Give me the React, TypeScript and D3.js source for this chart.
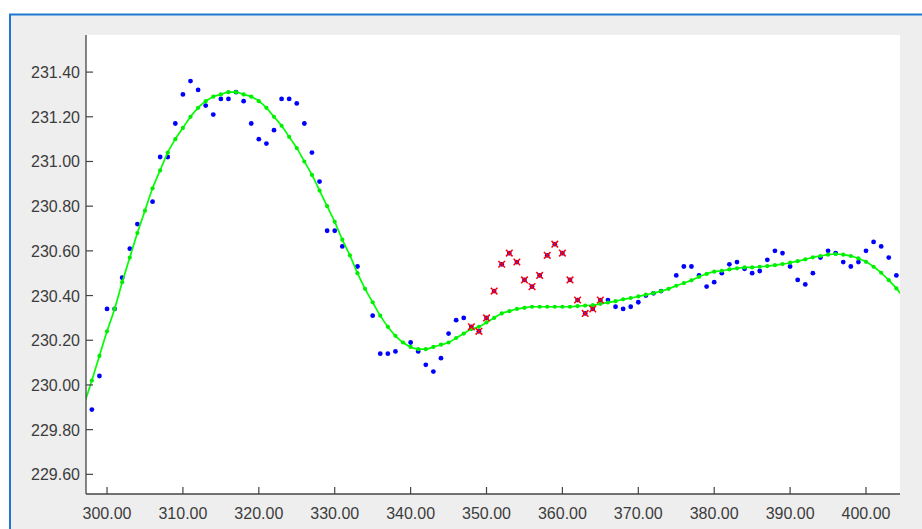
import React from "react";
import * as d3 from "d3";

// Observed samples (blue dots)
const obsX: number[] = [
  298, 299, 300, 301, 302, 303, 304, 306, 307, 308, 309, 310, 311, 312, 313, 314, 315, 316, 317, 318,
  319, 320, 321, 322, 323, 324, 325, 326, 327, 328, 329, 330, 331, 333, 335, 336, 337, 338, 340, 341,
  342, 343, 344, 345, 346, 347, 348, 349, 350, 351, 352, 353, 354, 355, 356, 357, 358, 359, 360, 361,
  362, 363, 364, 365, 366, 367, 368, 369, 370, 371, 372, 373, 375, 376, 377, 378, 379, 380, 381, 382,
  383, 384, 385, 386, 387, 388, 389, 390, 391, 392, 393, 394, 395, 396, 397, 398, 399, 400, 401, 402,
  403, 404,
];
const obsY: number[] = [
  229.89, 230.04, 230.34, 230.34, 230.48, 230.61, 230.72, 230.82, 231.02, 231.02, 231.17, 231.3, 231.36, 231.32, 231.25, 231.21, 231.28, 231.28, 231.31, 231.27,
  231.17, 231.1, 231.08, 231.14, 231.28, 231.28, 231.26, 231.17, 231.04, 230.91, 230.69, 230.69, 230.62, 230.53, 230.31, 230.14, 230.14, 230.15, 230.19, 230.15,
  230.09, 230.06, 230.12, 230.23, 230.29, 230.3, 230.26, 230.24, 230.3, 230.42, 230.54, 230.59, 230.55, 230.47, 230.44, 230.49, 230.58, 230.63, 230.59, 230.47,
  230.38, 230.32, 230.34, 230.38, 230.38, 230.35, 230.34, 230.35, 230.37, 230.4, 230.41, 230.42, 230.49, 230.53, 230.53, 230.49, 230.44, 230.46, 230.5, 230.54,
  230.55, 230.52, 230.5, 230.51, 230.56, 230.6, 230.59, 230.53, 230.47, 230.45, 230.5, 230.57, 230.6, 230.59, 230.55, 230.53, 230.55, 230.6, 230.64, 230.62,
  230.57, 230.49,
];

// Outliers (red crosses)
const outlierX: number[] = [348, 349, 350, 351, 352, 353, 354, 355, 356, 357, 358, 359, 360, 361, 362, 363, 364, 365];
const outlierY: number[] = [
  230.26, 230.24, 230.3, 230.42, 230.54, 230.59, 230.55, 230.47, 230.44, 230.49, 230.58, 230.63, 230.59, 230.47, 230.38, 230.32, 230.34, 230.38,
];

// Fitted curve (green)
const fitX: number[] = d3.range(297, 406);
const fitY: number[] = [
  229.915, 230.02, 230.13, 230.24, 230.34, 230.46, 230.57, 230.68, 230.78, 230.88,
  230.96, 231.04, 231.1, 231.15, 231.2, 231.24, 231.27, 231.29, 231.3, 231.31,
  231.31, 231.3, 231.29, 231.27, 231.24, 231.2, 231.16, 231.11, 231.06, 231.0,
  230.94, 230.87, 230.8, 230.73, 230.65, 230.58, 230.5, 230.43, 230.37, 230.31,
  230.26, 230.22, 230.19, 230.17, 230.16, 230.16, 230.17, 230.18, 230.19, 230.21,
  230.23, 230.25, 230.26, 230.28, 230.3, 230.32, 230.33, 230.34, 230.345, 230.35,
  230.35, 230.35, 230.35, 230.35, 230.35, 230.353, 230.355, 230.357, 230.363, 230.369,
  230.375, 230.383, 230.389, 230.396, 230.404, 230.411, 230.42, 230.43, 230.444, 230.456,
  230.468, 230.484, 230.497, 230.507, 230.511, 230.517, 230.522, 230.526, 230.526, 230.529,
  230.532, 230.536, 230.541, 230.547, 230.554, 230.562, 230.571, 230.577, 230.583, 230.586,
  230.583, 230.577, 230.566, 230.551, 230.529, 230.502, 230.469, 230.432, 230.39,
];

const xTicks: number[] = [300, 310, 320, 330, 340, 350, 360, 370, 380, 390, 400];
const yTicks: number[] = [229.6, 229.8, 230.0, 230.2, 230.4, 230.6, 230.8, 231.0, 231.2, 231.4];

const W = 922;
const H = 529;
const plot = { left: 86, top: 35, right: 900, bottom: 494 };

export default function App() {
  const x = d3.scaleLinear().domain([297.23, 404.48]).range([plot.left, plot.right]);
  const y = d3.scaleLinear().domain([229.512, 231.566]).range([plot.bottom, plot.top]);

  const fitPts: [number, number][] = fitX.map((v, i) => [v, fitY[i]]);
  const line = d3
    .line<[number, number]>()
    .x((d) => x(d[0]))
    .y((d) => y(d[1]))
    .curve(d3.curveMonotoneX);

  const fmt = d3.format(".2f");
  const font = "'Liberation Sans', Arial, sans-serif";
  const axisColor = "#444444";
  const textColor = "#3c3c3c";
  const xs = 3.3;

  return (
    <svg
      width={W}
      height={H}
      style={{ position: "absolute", left: 0, top: 0, display: "block" }}
    >
      <defs>
        <clipPath id="plotClip">
          <rect x={plot.left} y={plot.top} width={plot.right - plot.left} height={plot.bottom - plot.top} />
        </clipPath>
      </defs>
      <rect x={0} y={0} width={W} height={H} fill="#ffffff" />
      <rect x={10} y={14.5} width={2000} height={2000} fill="#eeeeee" stroke="#1f78d1" strokeWidth={2} />
      <rect
        x={plot.left}
        y={plot.top}
        width={plot.right - plot.left}
        height={plot.bottom - plot.top}
        fill="#ffffff"
      />
      <g clipPath="url(#plotClip)">
        {obsX.map((v, i) => (
          <circle key={"b" + i} cx={x(v)} cy={y(obsY[i])} r={2.4} fill="#0000ff" />
        ))}
        <path d={line(fitPts) || ""} fill="none" stroke="#00ff00" strokeWidth={1.7} />
        {fitPts.map((d, i) => (
          <circle key={"g" + i} cx={x(d[0])} cy={y(d[1])} r={2.1} fill="#00ee00" />
        ))}
        {outlierX.map((v, i) => {
          const cx = x(v);
          const cy = y(outlierY[i]);
          return (
            <g key={"r" + i} stroke="#ff0000" strokeWidth={1.5}>
              <line x1={cx - xs} y1={cy - xs} x2={cx + xs} y2={cy + xs} />
              <line x1={cx - xs} y1={cy + xs} x2={cx + xs} y2={cy - xs} />
            </g>
          );
        })}
      </g>
      {/* axes */}
      <line x1={plot.left} y1={plot.top} x2={plot.left} y2={plot.bottom} stroke={axisColor} strokeWidth={1.3} />
      <line x1={plot.left} y1={plot.bottom} x2={plot.right} y2={plot.bottom} stroke={axisColor} strokeWidth={1.3} />
      {yTicks.map((t) => (
        <g key={"yt" + t}>
          <line x1={plot.left} x2={plot.left + 7} y1={y(t)} y2={y(t)} stroke={axisColor} strokeWidth={1.2} />
          <text
            x={plot.left - 6}
            y={y(t) + 6}
            textAnchor="end"
            fontFamily={font}
            fontSize={16}
            fill={textColor}
          >
            {fmt(t)}
          </text>
        </g>
      ))}
      {xTicks.map((t) => (
        <g key={"xt" + t}>
          <line x1={x(t)} x2={x(t)} y1={plot.bottom} y2={plot.bottom - 7} stroke={axisColor} strokeWidth={1.2} />
          <text
            x={x(t)}
            y={518.5}
            textAnchor="middle"
            fontFamily={font}
            fontSize={16}
            fill={textColor}
          >
            {fmt(t)}
          </text>
        </g>
      ))}
    </svg>
  );
}
